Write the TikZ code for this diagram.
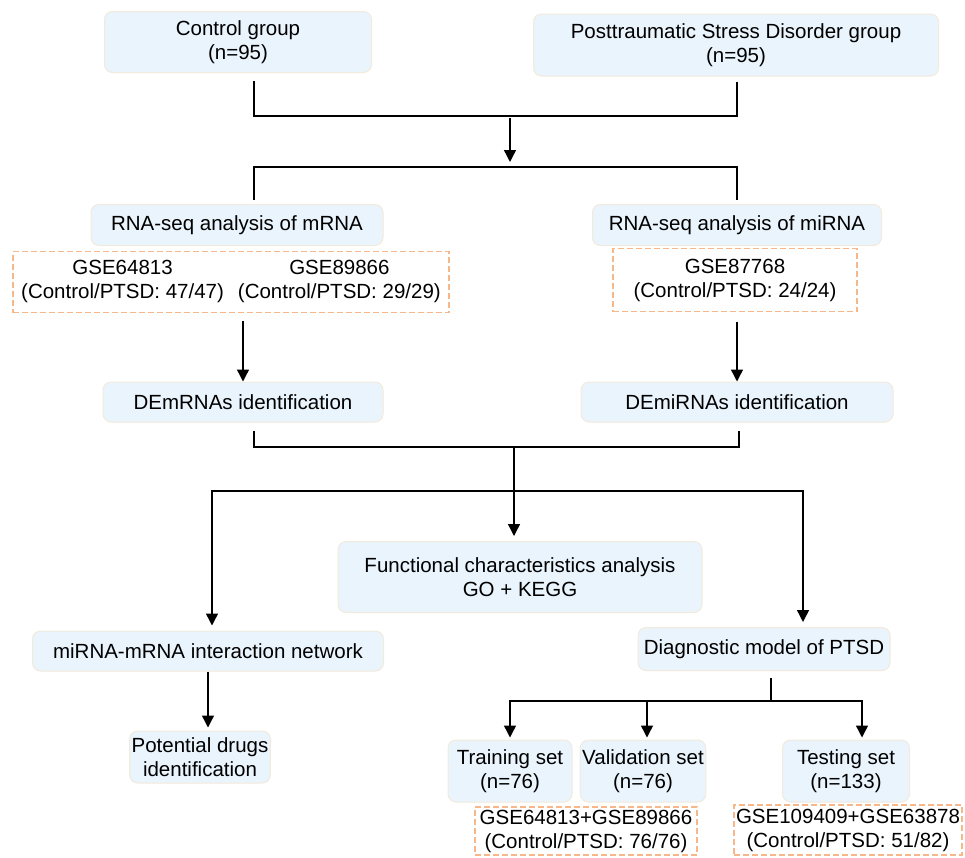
\documentclass[tikz,border=0pt]{standalone}
\usepackage{fontspec}
\setmainfont{Liberation Sans}
\usetikzlibrary{arrows.meta, positioning}
\definecolor{boxfill}{HTML}{EAF4FC}
\definecolor{boxline}{HTML}{F2EADC}
\definecolor{dashline}{HTML}{F6B88A}

\begin{document}
\begin{tikzpicture}[x=1pt, y=-1pt,
    box/.style={draw=boxline, fill=boxfill, line width=1pt, rounded corners=8pt, align=center, inner sep=2pt, font=\fontsize{20.5}{24}\selectfont},
    dbox/.style={draw=dashline, line width=1.3pt, dash pattern=on 6pt off 3pt, align=center, inner sep=2pt, font=\fontsize{20.5}{24}\selectfont},
    link/.style={line width=1.4pt},
    arrow/.style={link, -{Triangle[width=12pt,length=12pt]}}]
          \useasboundingbox (0,0) rectangle (965,857);
          \node[box, minimum width=267pt, minimum height=61pt] (ctrl) at (238,42) {Control group\\(n=95)};
          \node[box, minimum width=405pt, minimum height=62pt] (ptsd) at (736,45) {Posttraumatic Stress Disorder group\\(n=95)};
          \node[box, minimum width=292pt, minimum height=41pt] (rnam) at (237,225) {RNA-seq analysis of mRNA};
          \node[box, minimum width=289pt, minimum height=41pt] (rnami) at (737,225) {RNA-seq analysis of miRNA};
          \node[dbox, minimum width=436pt, minimum height=61pt] (gsem) at (231,282) {\begin{tabular}{@{}c@{\hspace{14pt}}c@{}}GSE64813 & GSE89866\\(Control/PTSD: 47/47) & (Control/PTSD: 29/29)\end{tabular}};
          \node[dbox, minimum width=244pt, minimum height=63pt] (gsemi) at (735,280) {GSE87768\\(Control/PTSD: 24/24)};
          \node[box, minimum width=280pt, minimum height=40pt] (dem) at (243,402) {DEmRNAs identification};
          \node[box, minimum width=312pt, minimum height=40pt] (demi) at (737,402) {DEmiRNAs identification};
          \node[box, minimum width=364pt, minimum height=71pt] (func) at (520,577) {Functional characteristics analysis\\GO + KEGG};
          \node[box, minimum width=351pt, minimum height=40pt] (net) at (208,651) {miRNA-mRNA interaction network};
          \node[box, minimum width=138pt, minimum height=52pt] (drugs) at (200,757) {Potential drugs\\identification};
          \node[box, minimum width=252pt, minimum height=43pt] (diag) at (764,649) {Diagnostic model of PTSD};
          \node[box, minimum width=124pt, minimum height=62pt] (train) at (510,771) {Training set\\(n=76)};
          \node[box, minimum width=120pt, minimum height=62pt] (valid) at (643,771) {Validation set\\(n=76)};
          \node[box, minimum width=127pt, minimum height=62pt] (test) at (846,771) {Testing set\\(n=133)};
          \node[dbox, minimum width=222pt, minimum height=48pt] (gsetrain) at (586,831) {GSE64813+GSE89866\\(Control/PTSD: 76/76)};
          \node[dbox, minimum width=228pt, minimum height=50pt] (gsetest) at (848,830) {GSE109409+GSE63878\\(Control/PTSD: 51/82)};

          \coordinate (j1) at (510,116);
          \coordinate (j2) at (510,167);
          \coordinate (j3) at (514,447);
          \coordinate (j4) at (514,491);
          \coordinate (j5) at (771,701);

          \draw[link] ([xshift=16pt,yshift=-8pt]ctrl.south) |- (j1) -| ([xshift=1pt,yshift=-5pt]ptsd.south);
          \draw[arrow, shorten <=2pt, shorten >=5pt] (j1) -- (j2);
          \draw[link] ([xshift=17pt,yshift=4pt]rnam.north) |- (j2) -| ([yshift=4pt]rnami.north);
          \draw[arrow, shorten <=8pt] (gsem.south -| dem.north) -- (dem.north);
          \draw[arrow, shorten <=10pt] (gsemi.south -| demi.north) -- (demi.north);
          \draw[link] ([xshift=11pt,yshift=-8pt]dem.south) |- (j3) -| ([xshift=2pt,yshift=-8pt]demi.south);
          \draw[arrow, shorten >=5pt] (j3) -- (j3 |- func.north);
          \draw[arrow, shorten >=5pt] (j4) -| ([xshift=4pt]net.north);
          \draw[arrow, shorten >=5pt] (j4) -| ([xshift=39pt]diag.north);
          \draw[arrow, shorten >=3pt] (net.south) -- (net.south |- drugs.north);
          \draw[link, shorten <=7pt] (diag.south -| j5) -- (j5);
          \draw[arrow, shorten >=2pt] (j5) -| (train.north);
          \draw[arrow, shorten >=2pt] (j5) -| ([xshift=4pt]valid.north);
          \draw[arrow, shorten >=2pt] (j5) -| ([xshift=16pt]test.north);
        \end{tikzpicture}
\end{document}
